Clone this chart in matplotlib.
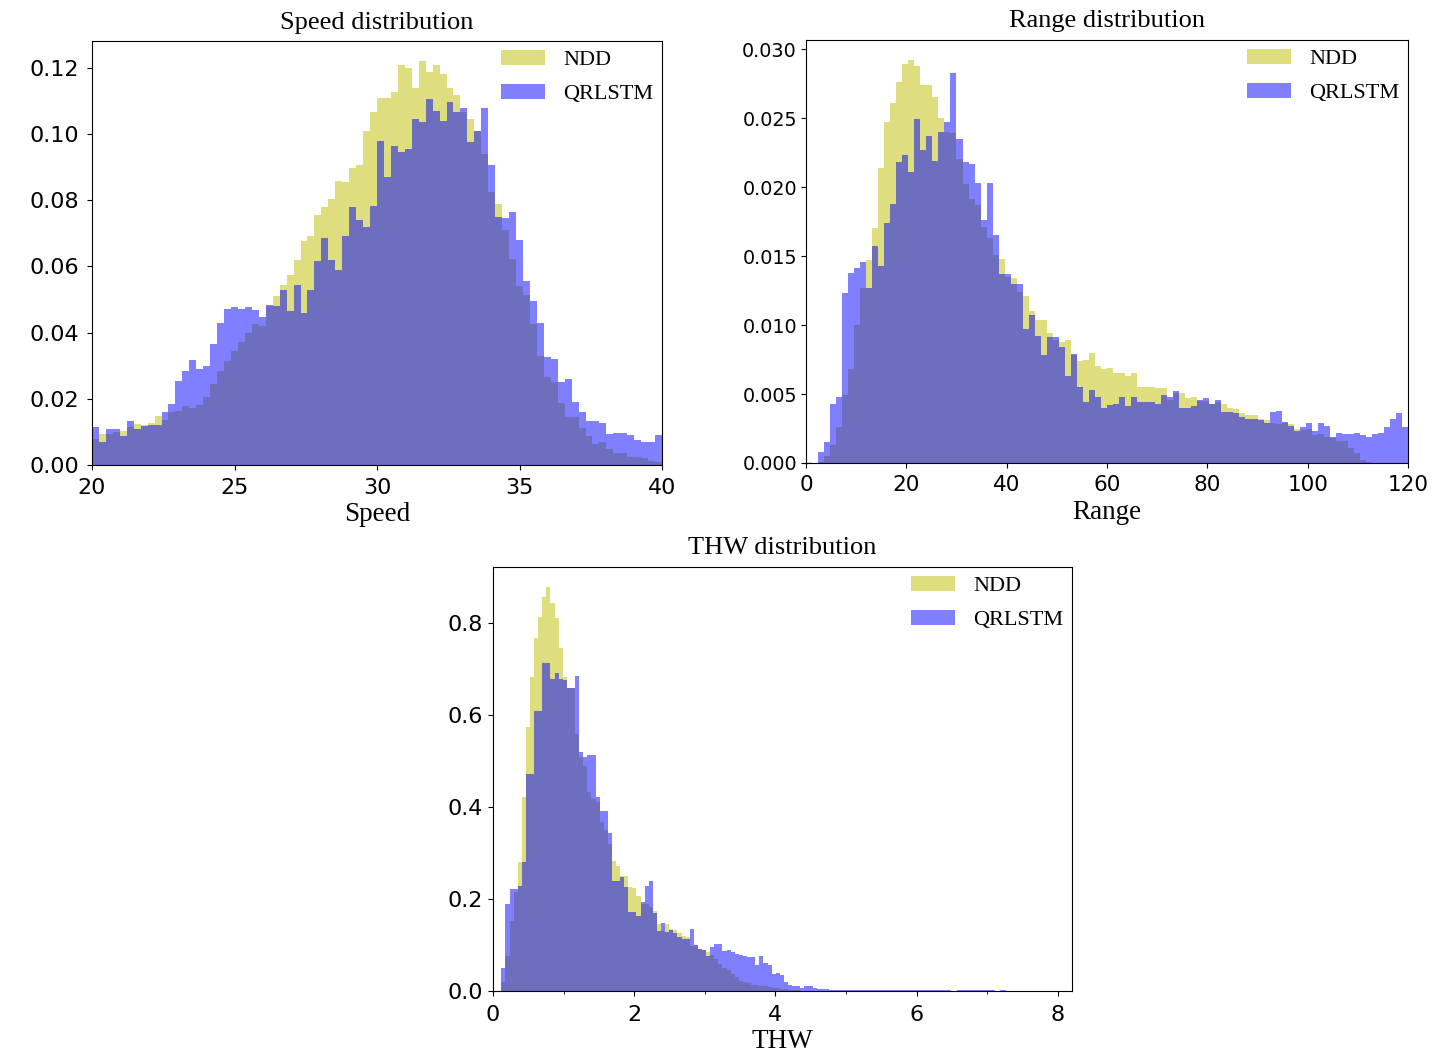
import numpy as np
import matplotlib
matplotlib.use("Agg")
import matplotlib.pyplot as plt
from matplotlib.ticker import MultipleLocator, FormatStrFormatter

# ---------------- data ----------------
speed_range = (20.0, 40.0)
speed_nbins = 82
speed_ndd = [
    .0080, .0094, .0095, .0100, .0104, .0116, .0124, .0120, .0128, .0149,
    .0136, .0159, .0163, .0178, .0173, .0181, .0204, .0246, .0284, .0314,
    .0344, .0372, .0400, .0427, .0420, .0480, .0510, .0545, .0575, .0618,
    .0676, .0693, .0754, .0780, .0804, .0857, .0854, .0896, .0906, .1008,
    .1066, .1110, .1110, .1127, .1210, .1200, .1140, .1220, .1187, .1207,
    .1180, .1140, .1117, .1066, .1045, .1010, .0940, .0825, .0790, .0710,
    .0623, .0540, .0515, .0427, .0330, .0266, .0250, .0188, .0146, .0144,
    .0113, .0087, .0063, .0070, .0047, .0035, .0035, .0023, .0023, .0020,
    .0013, .0010]
speed_qrlstm = [
    .0114, .0070, .0108, .0108, .0087, .0133, .0110, .0118, .0120, .0120,
    .0159, .0183, .0253, .0283, .0317, .0291, .0298, .0365, .0430, .0470,
    .0476, .0472, .0476, .0468, .0447, .0484, .0480, .0530, .0465, .0545,
    .0460, .0528, .0615, .0686, .0618, .0590, .0693, .0780, .0740, .0720,
    .0782, .0980, .0870, .0965, .0945, .0955, .1045, .1035, .1105, .1070,
    .1040, .1097, .1066, .1080, .0975, .1010, .1080, .0905, .0750, .0745,
    .0765, .0680, .0557, .0495, .0430, .0325, .0319, .0250, .0260, .0190,
    .0159, .0133, .0133, .0128, .0093, .0096, .0096, .0090, .0075, .0070,
    .0070, .0090]

range_range = (0.0, 120.0)
range_nbins = 100
range_ndd = [
    .0001, 0, .0001, .0005, .0013, .0026, .0049, .0068, .0100, .0127,
    .0147, .0170, .0214, .0247, .0261, .0276, .0289, .0292, .0288, .0274,
    .0274, .0265, .0250, .0240, .0239, .0220, .0202, .0191, .0187, .0171,
    .0163, .0151, .0148, .0135, .0134, .0124, .0121, .0110, .0104, .0104,
    .0094, .0089, .0088, .0089, .0078, .0074, .0075, .0080, .0070, .0068,
    .0069, .0065, .0065, .0063, .0065, .0055, .0055, .0055, .0054, .0054,
    .0046, .0051, .0051, .0047, .0048, .0045, .0045, .0043, .0044, .0043,
    .0040, .0039, .0036, .0035, .0035, .0032, .0031, .0029, .0028, .0029,
    .0028, .0025, .0024, .0025, .0020, .0021, .0019, .0018, .0016, .0016,
    .0011, .0007, .0002, .00005, 0, 0, 0, 0, 0, 0]
range_qrlstm = [
    0, 0, .0008, .0015, .0043, .0048, .0123, .0138, .0141, .0146,
    .0127, .0157, .0143, .0174, .0188, .0218, .0223, .0211, .0249, .0227,
    .0237, .0219, .0240, .0247, .0283, .0235, .0218, .0217, .0203, .0176,
    .0203, .0165, .0137, .0137, .0130, .0130, .0097, .0107, .0092, .0078,
    .0091, .0091, .0084, .0063, .0079, .0055, .0044, .0053, .0048, .0040,
    .0042, .0043, .0048, .0041, .0048, .0044, .0044, .0044, .0043, .0049,
    .0048, .0052, .0040, .0040, .0041, .0046, .0047, .0043, .0046, .0037,
    .0037, .0036, .0033, .0032, .0032, .0031, .0029, .0037, .0038, .0030,
    .0027, .0023, .0026, .0029, .0023, .0029, .0027, .0019, .0022, .0021,
    .0021, .0022, .0020, .0019, .0021, .0022, .0026, .0032, .0036, .0026]

thw_start = 0.118
thw_width = 0.058
thw_nbins = 80
thw_tail_edges = [5.2, 6.49, 6.57, 7.11, 7.18, 7.27]
thw_ndd = [
    .020, .076, .153, .215, .281, .421, .574, .683, .767, .812,
    .855, .877, .843, .810, .745, .683, .659, .659, .559, .509,
    .489, .432, .418, .410, .367, .349, .320, .283, .272, .250,
    .249, .225, .223, .206, .189, .189, .182, .174, .145, .131,
    .145, .135, .132, .125, .120, .117, .098, .099, .092, .088,
    .085, .078, .070, .059, .051, .045, .038, .030, .022, .019,
    .017, .014, .012, .011, .010, .009, .007, .006, .005, .004,
    .003, .002, .002, .001, .001, .001, 0, 0, 0, 0,
    0, .0005, 0, 0, 0, 0]
thw_qrlstm = [
    .049, .189, .222, .222, .229, .280, .472, .472, .608, .608,
    .712, .712, .678, .690, .677, .676, .659, .659, .685, .519,
    .508, .513, .513, .421, .390, .390, .343, .238, .238, .247,
    .225, .171, .171, .163, .193, .229, .238, .169, .131, .147,
    .129, .132, .126, .118, .112, .112, .135, .100, .092, .088,
    .077, .095, .103, .101, .087, .088, .085, .081, .078, .076,
    .074, .074, .056, .075, .060, .056, .038, .039, .035, .020,
    .012, .011, .010, .007, .010, .010, .007, .005, .004, .004,
    .003, .0025, 0, .0025, 0, .0025]

labels = ["NDD", "QRLSTM"]
colors = ["y", "b"]

# ---------------- figure ----------------
W, H = 1447, 1054
fig = plt.figure(figsize=(W / 100, H / 100), dpi=100)
serif = "Liberation Serif"


def axes_px(l, t, r, b):
    return fig.add_axes([l / W, 1 - b / H, (r - l) / W, (b - t) / H])


def draw(ax, edges, series, title, xlabel, xlim, xtick_size=16, ytick_size=16,
         xpad=5.5, ypad=6, labelpad=3.5):
    centers = 0.5 * (edges[:-1] + edges[1:])
    for vals, c, lab in zip(series, colors, labels):
        ax.hist(centers, bins=edges, weights=vals, color=c, alpha=0.5,
                histtype="stepfilled", linewidth=0, label=lab)
    ax.set_xlim(*xlim)
    ax.set_title(title, family=serif, fontsize=19, pad=9)
    ax.set_xlabel(xlabel, family=serif, fontsize=19.5, labelpad=labelpad)
    ax.tick_params(axis="x", labelsize=xtick_size, pad=xpad)
    ax.tick_params(axis="y", labelsize=ytick_size, pad=ypad)
    ax.legend(loc="upper right", frameon=False, borderaxespad=0.1, borderpad=0.3,
              labelspacing=0.6, prop={"family": serif, "size": 16})


ax1 = axes_px(92, 41, 662, 465)
edges1 = np.linspace(speed_range[0], speed_range[1], speed_nbins + 1)
draw(ax1, edges1, [speed_ndd, speed_qrlstm], "Speed distribution", "Speed", speed_range)
ax1.xaxis.set_major_locator(MultipleLocator(5))
ax1.yaxis.set_major_formatter(FormatStrFormatter("%.2f"))

ax2 = axes_px(806, 40, 1408, 463)
edges2 = np.linspace(range_range[0], range_range[1], range_nbins + 1)
draw(ax2, edges2, [range_ndd, range_qrlstm], "Range distribution", "Range", range_range,
     xtick_size=15.5, ytick_size=13.8, ypad=3)
ax2.yaxis.set_major_formatter(FormatStrFormatter("%.3f"))

ax3 = axes_px(493, 567, 1072, 991)
edges3 = np.concatenate([thw_start + thw_width * np.arange(thw_nbins + 1), thw_tail_edges])
draw(ax3, edges3, [thw_ndd, thw_qrlstm], "THW distribution", "THW", (0, 8.2),
     xpad=6.3, ypad=4)
ax3.xaxis.set_major_locator(MultipleLocator(2))
ax3.xaxis.set_minor_locator(MultipleLocator(1))
ax3.yaxis.set_major_formatter(FormatStrFormatter("%.1f"))

fig.savefig("out.png", dpi=100)
